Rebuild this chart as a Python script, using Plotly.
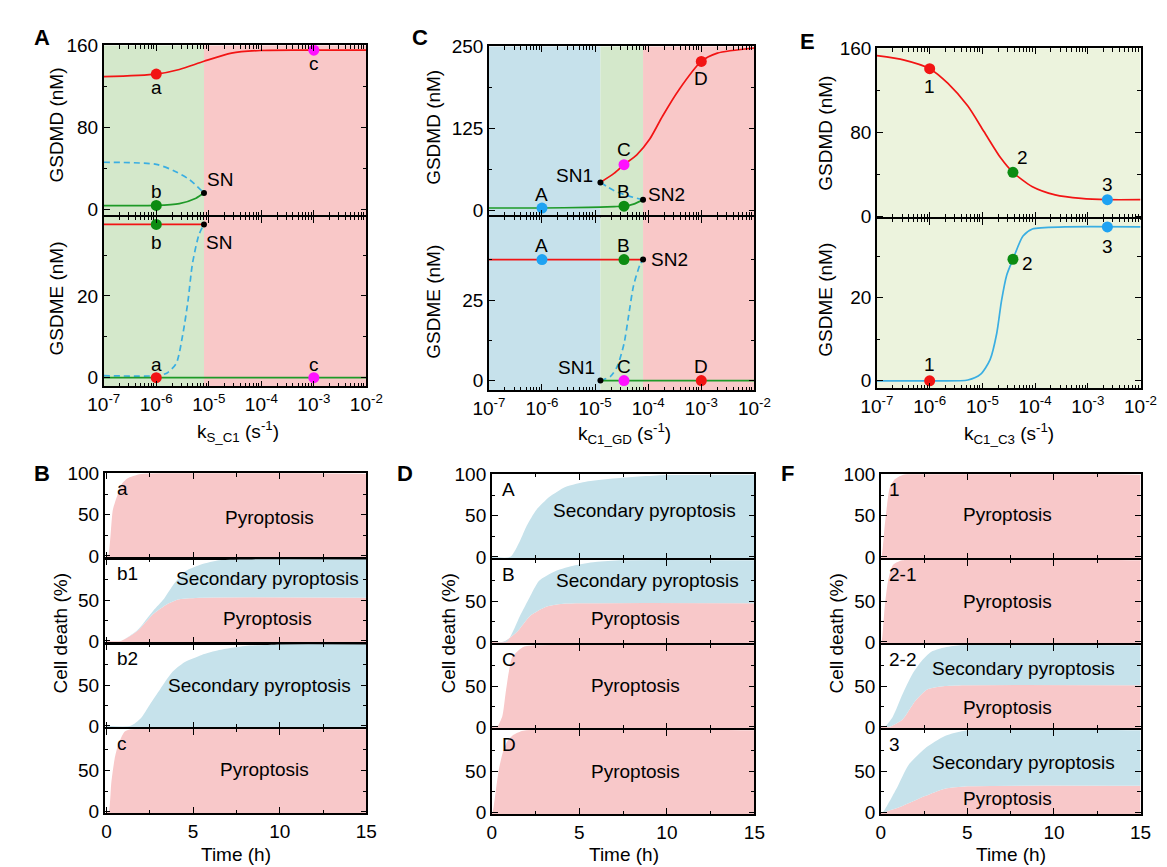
import numpy as np
import plotly.graph_objects as go

W, H = 1167, 867
FONT = "Liberation Sans, Arial, sans-serif"
FS = 19
LW = 1.5          # axis line width
HG = LW / 2       # half gap so stacked axis lines coincide

# ---------------- data ----------------
# Panel A : bifurcation in ks_C1
A_SN = 8.1e-6
A_regions = [(1e-7, A_SN, "green"), (A_SN, 1e-2, "pink")]
A_gdmd_red_x = [1e-7, 1e-6, 2.75e-6, 8.1e-6, 2.7e-5, 9.7e-5, 1e-3, 1e-2]
A_gdmd_red_y = [129.5, 132, 136.5, 144.5, 152.4, 155, 155.3, 155.3]
A_gdmd_grn_x = [1e-7, 1e-6, 2.75e-6, 5.7e-6, 8.1e-6]
A_gdmd_grn_y = [3.8, 3.9, 5.7, 11, 16]
A_gdmd_uns_x = [1e-7, 1e-6, 2.1e-6, 4.3e-6, 8.1e-6]
A_gdmd_uns_y = [46, 44, 38, 29, 16]
A_gdme_red_x = [1e-7, 8.1e-6]
A_gdme_red_y = [37.5, 37.5]
A_gdme_uns_x = [1e-7, 1e-6, 1.58e-6, 2.4e-6, 3.2e-6, 4e-6, 4.9e-6, 6.5e-6, 8.1e-6]
A_gdme_uns_y = [0.5, 0.5, 1.1, 3.5, 10.6, 18.6, 28, 35, 37.5]
A_gdme_grn_x = [1e-7, 1e-2]
A_gdme_grn_y = [0, 0]
A_pts_x = {"a": 1e-6, "b": 1e-6, "c": 1e-3}
A_top_pts = {"a": 132, "b": 3.9, "c": 155.3}
A_bot_pts = {"a": 0, "b": 37.5, "c": 0}
A_SN_top, A_SN_bot = 16, 37.5

# Panel C : bifurcation in kC1_GD
C_SN1, C_SN2 = 1.26e-5, 8e-5
C_regions = [(1e-7, C_SN1, "blue"), (C_SN1, C_SN2, "green"), (C_SN2, 1e-2, "pink")]
C_gdmd_grn_x = [1e-7, 1e-6, 7.4e-6, 2.3e-5, 3.5e-5, 5.3e-5, 8e-5]
C_gdmd_grn_y = [4, 4, 5, 6.2, 6.8, 10, 16.4]
C_gdmd_uns_x = [1.26e-5, 2.3e-5, 4e-5, 8e-5]
C_gdmd_uns_y = [42.7, 30.3, 23, 16.4]
C_gdmd_red_x = [1.26e-5, 2.3e-5, 3.5e-5, 6.1e-5, 1.07e-4, 1.87e-4, 3.8e-4, 1e-3, 2e-3, 1e-2]
C_gdmd_red_y = [43, 57, 70, 85, 109, 144, 184, 227, 239.6, 247.5]
C_gdme_red_x = [1e-7, 8e-5]
C_gdme_red_y = [37.6, 37.6]
C_gdme_uns_x = [1.26e-5, 1.95e-5, 2.6e-5, 3.5e-5, 4.3e-5, 5.3e-5, 7e-5, 8e-5]
C_gdme_uns_y = [0, 1.3, 4.3, 11.4, 20.4, 29.5, 36, 37.6]
C_gdme_grn_x = [1.26e-5, 1e-2]
C_gdme_grn_y = [0, 0]
C_pts_x = {"A": 1e-6, "B": 3.5e-5, "C": 3.5e-5, "D": 1e-3}
C_top_pts = {"A": 4, "B": 6.8, "C": 70, "D": 227}
C_bot_pts = {"A": 37.6, "B": 37.6, "C": 0, "D": 0}

# Panel E : kC1_C3
E_regions = [(1e-7, 1e-2, "lime")]
E_gdmd_x = [1e-7, 3.3e-7, 1e-6, 2.2e-6, 5.3e-6, 1.07e-5, 2.2e-5, 3.8e-5, 8.9e-5, 2.4e-4, 7.5e-4, 2.35e-3, 1e-2]
E_gdmd_y = [153, 148.8, 140.6, 126.8, 105, 80.8, 56, 42, 28.3, 20.6, 17.2, 16, 16]
E_gdme_x = [1e-7, 1e-6, 5.3e-6, 9.3e-6, 1.4e-5, 1.87e-5, 2.3e-5, 2.9e-5, 3.8e-5, 5.9e-5, 8.9e-5, 3.7e-4, 1e-2]
E_gdme_y = [0, 0, 0.2, 1.6, 5.1, 11.4, 19.2, 25.5, 29.3, 34.9, 36.6, 37.1, 37.1]
E_pts_x = {"1": 1e-6, "2": 3.8e-5, "3": 2.35e-3}
E_top_pts = {"1": 140.6, "2": 42, "3": 16}
E_bot_pts = {"1": 0, "2": 29.3, "3": 37.1}

# Time courses (cell death %, stacked: pyroptosis + secondary pyroptosis = total)
B_cases = [
    dict(label="a", tp=[0, 0.1, 0.37, 0.65, 0.84, 1.2, 2.0, 15], p=[0, 0, 56, 75, 86, 94, 99.5, 100],
         tt=None, tot=None),
    dict(label="b1", tp=[0, 0.84, 1.78, 2.7, 3.5, 4.2, 5.5, 15], p=[0, 0, 12, 33, 45, 51, 53, 53],
         tt=[0, 0.84, 1.78, 2.7, 3.3, 3.9, 4.6, 5.5, 6.5, 8.4, 15], tot=[0, 0, 13, 37, 51, 70, 86, 94, 99, 100, 100]),
    dict(label="b2", tp=None, p=None,
         tt=[0, 1.4, 1.97, 2.5, 3.1, 3.8, 4.5, 5.5, 6.5, 8, 10, 15], tot=[0, 0, 9, 26, 45, 66, 78, 87, 93, 98, 100, 100]),
    dict(label="c", tp=[0, 0.13, 0.28, 0.47, 0.66, 1.04, 1.4, 15], p=[0, 0, 35, 64, 80, 97, 100, 100],
         tt=None, tot=None),
]
D_cases = [
    dict(label="A", tp=None, p=None,
         tt=[0, 1.06, 1.6, 2.0, 2.54, 3.3, 4.2, 5.5, 7.3, 10, 15], tot=[0, 0, 19, 38, 57, 73, 85, 92, 96, 99.5, 100]),
    dict(label="B", tp=[0, 0.67, 1.43, 2.17, 3.1, 4.2, 6, 15], p=[0, 0, 12, 31.5, 43, 47, 47.5, 47.5],
         tt=[0, 0.85, 1.6, 2.17, 2.7, 3.65, 4.76, 5.9, 7.5, 15], tot=[0, 0, 31.5, 55, 75, 87, 94, 98, 100, 100]),
    dict(label="C", tp=[0, 0.3, 0.6, 0.78, 0.96, 1.15, 1.43, 1.8, 2.5, 15], p=[0, 0, 13, 40, 66, 85, 92, 98, 100, 100],
         tt=None, tot=None),
    dict(label="D", tp=[0, 0.04, 0.22, 0.4, 0.6, 0.87, 1.2, 1.8, 15], p=[0, 0, 25, 52, 71, 86, 94, 99.5, 100],
         tt=None, tot=None),
]
F_cases = [
    dict(label="1", tp=[0, 0.04, 0.22, 0.36, 0.5, 0.79, 1.3, 15], p=[0, 0, 37, 63, 83, 94, 100, 100],
         tt=None, tot=None),
    dict(label="2-1", tp=[0, 0.04, 0.22, 0.41, 0.69, 1.25, 15], p=[0, 0, 42, 74, 94, 100, 100],
         tt=None, tot=None),
    dict(label="2-2", tp=[0, 0.5, 1.25, 2.0, 2.7, 3.7, 5, 15], p=[0, 0, 9, 32, 46, 50, 51, 51],
         tt=[0, 0.22, 0.69, 1.25, 1.8, 2.4, 2.9, 3.6, 4.6, 15], tot=[0, 0, 12.5, 40, 64, 82, 92, 97, 100, 100]),
    dict(label="3", tp=[0, 0.1, 1.25, 2.55, 3.7, 5, 15], p=[0, 0, 8, 20, 29, 32, 32.5],
         tt=[0, 0.1, 0.9, 1.6, 2.55, 3.7, 5, 15], tot=[0, 0, 29, 58, 78, 93, 100, 100]),
]
# region text labels: (text, t, value)
B_texts = [[("Pyroptosis", 9.4, 47)],
           [("Secondary pyroptosis", 9.3, 76), ("Pyroptosis", 9.3, 27)],
           [("Secondary pyroptosis", 8.85, 50)],
           [("Pyroptosis", 9.1, 51)]]
D_texts = [[("Secondary pyroptosis", 8.7, 56)],
           [("Secondary pyroptosis", 8.9, 75), ("Pyroptosis", 8.2, 29)],
           [("Pyroptosis", 8.2, 50.6)],
           [("Pyroptosis", 8.2, 50)]]
F_texts = [[("Pyroptosis", 7.3, 51)],
           [("Pyroptosis", 7.3, 49)],
           [("Secondary pyroptosis", 8.25, 72), ("Pyroptosis", 7.3, 23.4)],
           [("Secondary pyroptosis", 8.25, 61), ("Pyroptosis", 7.3, 17.7)]]

# ---------------- styles ----------------
RED = "#f21414"
GREEN_L = "#1e9a28"
GREEN_M = "#0c8c12"
BLUE_D = "#3aaee2"
BLUE_M = "#1ea2f2"
MAG = "#ff10ff"
BG = {"green": "#d4e8cb", "pink": "#f9c8c8", "blue": "#c6e1eb", "lime": "#ecf3dd"}
FILL_PINK = "#f8c8c9"
FILL_BLUE = "#c6e2eb"

fig = go.Figure()
layout = dict(width=W, height=H, margin=dict(l=0, r=0, t=0, b=0), paper_bgcolor="white",
              plot_bgcolor="rgba(0,0,0,0)", showlegend=False,
              font=dict(family=FONT, size=FS, color="black"))
annotations = []


def dx(a, b):
    return [a / W, b / W]


def dy(top, bot):
    return [1 - bot / H, 1 - top / H]


LOG_MAJ = [10.0 ** e for e in range(-7, -1)]
LOG_TXT = [f"10<sup>{e}</sup>" for e in range(-7, -1)]
LOG_MIN = [k * 10.0 ** e for e in range(-7, -2) for k in range(2, 10)]

common = dict(showline=True, linecolor="black", linewidth=LW, mirror="ticks", ticks="inside",
              ticklen=6, tickwidth=1.3, tickcolor="black", showgrid=False, zeroline=False,
              tickfont=dict(family=FONT, size=FS, color="black"))


def add_axes(n, xd, yd, xlog, xrange, yrange, showx, ytv, ymin_tv, xtv, xtt, xmin_tv):
    xk = "xaxis" if n == 1 else f"xaxis{n}"
    yk = "yaxis" if n == 1 else f"yaxis{n}"
    xa = dict(common, domain=dx(*xd), anchor="y" if n == 1 else f"y{n}", range=xrange,
              type="log" if xlog else "linear", tickmode="array", tickvals=xtv, ticktext=xtt,
              showticklabels=showx,
              minor=dict(tickmode="array", tickvals=xmin_tv, ticks="inside", ticklen=3.5, tickwidth=1.1,
                         tickcolor="black"))
    ya = dict(common, domain=dy(*yd), anchor="x" if n == 1 else f"x{n}", range=yrange,
              tickmode="array", tickvals=ytv, ticktext=[f"{v:g}" for v in ytv],
              minor=dict(tickmode="array", tickvals=ymin_tv, ticks="inside", ticklen=3.5, tickwidth=1.1,
                         tickcolor="black"))
    layout[xk] = xa
    layout[yk] = ya


def ax(n):
    return ("x" if n == 1 else f"x{n}"), ("y" if n == 1 else f"y{n}")


def region(n, x0, x1, y0, y1, color):
    xa, ya = ax(n)
    fig.add_trace(go.Scatter(x=[x0, x1, x1, x0, x0], y=[y0, y0, y1, y1, y0], mode="lines",
                             fill="toself", fillcolor=color, line=dict(width=0),
                             xaxis=xa, yaxis=ya, hoverinfo="skip"))


def line(n, x, y, color, dash=None, width=1.7):
    xa, ya = ax(n)
    fig.add_trace(go.Scatter(x=x, y=y, mode="lines",
                             line=dict(color=color, width=width, dash=dash, shape="spline", smoothing=0.7),
                             xaxis=xa, yaxis=ya, hoverinfo="skip"))


def dots(n, xs, ys, colors, size=11):
    xa, ya = ax(n)
    fig.add_trace(go.Scatter(x=xs, y=ys, mode="markers",
                             marker=dict(color=colors, size=size, line=dict(width=0)),
                             xaxis=xa, yaxis=ya, hoverinfo="skip"))


def lab(n, x, y, text, xs=0, ys=0, xanchor="center", log=True):
    xa, ya = ax(n)
    annotations.append(dict(x=np.log10(x) if log else x, y=y, xref=xa, yref=ya, text=text,
                            showarrow=False, xshift=xs, yshift=ys, xanchor=xanchor, yanchor="middle",
                            font=dict(family=FONT, size=FS, color="black")))


def ptxt(xp, yp, text, size=FS, angle=0, bold=False, xanchor="center"):
    annotations.append(dict(x=xp / W, y=1 - yp / H, xref="paper", yref="paper",
                            text=f"<b>{text}</b>" if bold else text, showarrow=False,
                            xanchor=xanchor, yanchor="middle", textangle=angle,
                            font=dict(family=FONT, size=size, color="black")))


# ---------------- top row: bifurcation panels ----------------
def bif_axes(n_top, xd, ytop, ymid, ybot, r_top, r_bot, tv_top, mn_top, tv_bot, mn_bot):
    add_axes(n_top, xd, (ytop, ymid - HG), True, [-7, -2], r_top, False, tv_top, mn_top, LOG_MAJ, LOG_TXT, LOG_MIN)
    add_axes(n_top + 1, xd, (ymid + HG, ybot), True, [-7, -2], r_bot, True, tv_bot, mn_bot, LOG_MAJ, LOG_TXT, LOG_MIN)


rA_t, rA_b = [-6, 160], [-2.1, 39.3]
rC_t, rC_b = [-7.5, 250], [-3, 50.8]
rE_t, rE_b = [-1, 160], [-1.8, 39]
bif_axes(1, (82, 352), 28, 203, 377, rA_t, rA_b, [0, 80, 160], [40, 120], [0, 20], [10, 30])
bif_axes(3, (478, 751), 29, 203, 381, rC_t, rC_b, [0, 125, 250], [62.5, 187.5], [0, 25], [12.5, 37.5])
bif_axes(5, (877, 1148), 31, 205, 379, rE_t, rE_b, [0, 80, 160], [40, 120], [0, 20], [10, 30])

for n, regs, rt, rb in [(1, A_regions, rA_t, rA_b), (3, C_regions, rC_t, rC_b), (5, E_regions, rE_t, rE_b)]:
    for x0, x1, c in regs:
        region(n, x0, x1, rt[0], rt[1], BG[c])
        region(n + 1, x0, x1, rb[0], rb[1], BG[c])

# Panel A lines
line(1, A_gdmd_uns_x, A_gdmd_uns_y, BLUE_D, dash="6px,4px")
line(1, A_gdmd_grn_x, A_gdmd_grn_y, GREEN_L)
line(1, A_gdmd_red_x, A_gdmd_red_y, RED)
line(2, A_gdme_uns_x, A_gdme_uns_y, BLUE_D, dash="6px,4px")
line(2, A_gdme_grn_x, A_gdme_grn_y, GREEN_L)
line(2, A_gdme_red_x, A_gdme_red_y, RED)
dots(1, [A_pts_x["a"], A_pts_x["b"], A_pts_x["c"]], [A_top_pts["a"], A_top_pts["b"], A_top_pts["c"]],
     [RED, GREEN_M, MAG])
dots(2, [A_pts_x["a"], A_pts_x["b"], A_pts_x["c"]], [A_bot_pts["a"], A_bot_pts["b"], A_bot_pts["c"]],
     [RED, GREEN_M, MAG])
dots(1, [A_SN], [A_SN_top], ["black"], size=6)
dots(2, [A_SN], [A_SN_bot], ["black"], size=6)
lab(1, A_pts_x["a"], A_top_pts["a"], "a", ys=-13)
lab(1, A_pts_x["b"], A_top_pts["b"], "b", ys=14)
lab(1, A_pts_x["c"], A_top_pts["c"], "c", ys=-13)
lab(1, A_SN, A_SN_top, "SN", xs=1, ys=14, xanchor="left")
lab(2, A_pts_x["b"], A_bot_pts["b"], "b", ys=-18)
lab(2, A_SN, A_SN_bot, "SN", xs=0, ys=-18, xanchor="left")
lab(2, A_pts_x["a"], A_bot_pts["a"], "a", ys=13)
lab(2, A_pts_x["c"], A_bot_pts["c"], "c", ys=13)

# Panel C lines
line(3, C_gdmd_uns_x, C_gdmd_uns_y, BLUE_D, dash="6px,4px")
line(3, C_gdmd_grn_x, C_gdmd_grn_y, GREEN_L)
line(3, C_gdmd_red_x, C_gdmd_red_y, RED)
line(4, C_gdme_uns_x, C_gdme_uns_y, BLUE_D, dash="6px,4px")
line(4, C_gdme_grn_x, C_gdme_grn_y, GREEN_L)
line(4, C_gdme_red_x, C_gdme_red_y, RED)
cols = {"A": BLUE_M, "B": GREEN_M, "C": MAG, "D": RED}
keys = ["A", "B", "C", "D"]
dots(3, [C_pts_x[k] for k in keys], [C_top_pts[k] for k in keys], [cols[k] for k in keys])
dots(4, [C_pts_x[k] for k in keys], [C_bot_pts[k] for k in keys], [cols[k] for k in keys])
dots(3, [C_SN1, C_SN2], [C_gdmd_uns_y[0], C_gdmd_uns_y[-1]], ["black", "black"], size=6)
dots(4, [C_SN1, C_SN2], [C_gdme_uns_y[0], C_gdme_uns_y[-1]], ["black", "black"], size=6)
lab(3, C_pts_x["A"], C_top_pts["A"], "A", ys=14)
lab(3, C_pts_x["B"], C_top_pts["B"], "B", ys=15)
lab(3, C_pts_x["C"], C_top_pts["C"], "C", ys=15)
lab(3, C_pts_x["D"], C_top_pts["D"], "D", ys=-17)
lab(3, C_SN1, C_gdmd_uns_y[0], "SN1", xs=-5, ys=7, xanchor="right")
lab(3, C_SN2, C_gdmd_uns_y[-1], "SN2", xs=3, ys=5, xanchor="left")
lab(4, C_pts_x["A"], C_bot_pts["A"], "A", ys=14)
lab(4, C_pts_x["B"], C_bot_pts["B"], "B", ys=14)
lab(4, C_pts_x["C"], C_bot_pts["C"], "C", ys=14)
lab(4, C_pts_x["D"], C_bot_pts["D"], "D", ys=14)
lab(4, C_SN1, C_gdme_uns_y[0], "SN1", xs=-3, ys=13, xanchor="right")
lab(4, C_SN2, C_gdme_uns_y[-1], "SN2", xs=6, ys=0, xanchor="left")

# Panel E lines
line(5, E_gdmd_x, E_gdmd_y, RED)
line(6, E_gdme_x, E_gdme_y, BLUE_D)
ek = ["1", "2", "3"]
ecol = [RED, GREEN_M, BLUE_M]
dots(5, [E_pts_x[k] for k in ek], [E_top_pts[k] for k in ek], ecol)
dots(6, [E_pts_x[k] for k in ek], [E_bot_pts[k] for k in ek], ecol)
lab(5, E_pts_x["1"], E_top_pts["1"], "1", ys=-18)
lab(5, E_pts_x["2"], E_top_pts["2"], "2", xs=10, ys=15)
lab(5, E_pts_x["3"], E_top_pts["3"], "3", ys=15)
lab(6, E_pts_x["1"], E_bot_pts["1"], "1", ys=16)
lab(6, E_pts_x["2"], E_bot_pts["2"], "2", xs=15, ys=-4)
lab(6, E_pts_x["3"], E_bot_pts["3"], "3", ys=-20)

# ---------------- bottom row: time courses ----------------
T_RANGE_B = [-0.1, 15.0]
T_RANGE = [0, 15]
Y_RANGE = [-2, 100.5]


def time_panel(n0, xd, borders, xr, cases, texts, lab_x):
    k = len(cases)
    for i, case in enumerate(cases):
        n = n0 + i
        last = i == k - 1
        top = borders[i] + (HG if i > 0 else 0)
        bot = borders[i + 1] - (HG if not last else 0)
        add_axes(n, xd, (top, bot), False, xr, Y_RANGE, last,
                 [0, 50, 100] if i == 0 else [0, 50], [25, 75],
                 [0, 5, 10, 15], ["0", "5", "10", "15"], [2.5, 7.5, 12.5])
        xa, ya = ax(n)
        fig.add_trace(go.Scatter(x=[0, 15], y=[Y_RANGE[0], Y_RANGE[0]], mode="lines",
                                 line=dict(width=0), xaxis=xa, yaxis=ya, hoverinfo="skip"))
        if case["tp"] is not None:
            fig.add_trace(go.Scatter(x=case["tp"], y=case["p"], mode="lines", fill="tonexty",
                                     fillcolor=FILL_PINK,
                                     line=dict(width=0, shape="spline", smoothing=0.6),
                                     xaxis=xa, yaxis=ya, hoverinfo="skip"))
        if case["tt"] is not None:
            fig.add_trace(go.Scatter(x=case["tt"], y=case["tot"], mode="lines", fill="tonexty",
                                     fillcolor=FILL_BLUE,
                                     line=dict(width=0, shape="spline", smoothing=0.6),
                                     xaxis=xa, yaxis=ya, hoverinfo="skip"))
        for text, tx, ty in texts[i]:
            lab(n, tx, ty, text, log=False)
        ptxt(lab_x, borders[i] + 16, case["label"], xanchor="left")


time_panel(7, (83, 352), [466, 553, 640, 727, 814], T_RANGE_B, B_cases, B_texts, 94)
time_panel(11, (481, 751), [467, 554, 641, 728, 815], T_RANGE, D_cases, D_texts, 489)
time_panel(15, (881, 1148), [467, 554, 641, 728, 815], T_RANGE, F_cases, F_texts, 887)

# ---------------- titles ----------------
ptxt(33, 110, "GSDMD (nM)", angle=-90)
ptxt(33, 287, "GSDME (nM)", angle=-90)
ptxt(421, 112, "GSDMD (nM)", angle=-90)
ptxt(421, 290, "GSDME (nM)", angle=-90)
ptxt(824, 118, "GSDMD (nM)", angle=-90)
ptxt(824, 288, "GSDME (nM)", angle=-90)
ptxt(220, 423, "k<sub>S_C1</sub> (s<sup>-1</sup>)")
ptxt(617, 425, "k<sub>C1_GD</sub> (s<sup>-1</sup>)")
ptxt(1013, 425, "k<sub>C1_C3</sub> (s<sup>-1</sup>)")
ptxt(38, 630, "Cell death (%)", angle=-90)
ptxt(436, 630, "Cell death (%)", angle=-90)
ptxt(835, 630, "Cell death (%)", angle=-90)
ptxt(218, 856, "Time (h)")
ptxt(617, 856, "Time (h)")
ptxt(1015, 856, "Time (h)")
for t, xp, yp in [("A", 19, 20), ("C", 407, 20), ("E", 806, 24), ("B", 18, 466), ("D", 392, 466), ("F", 785, 466)]:
    ptxt(xp, yp, t, size=22, bold=True)

layout["annotations"] = annotations
fig.update_layout(**layout)
fig.write_html("out.html")
